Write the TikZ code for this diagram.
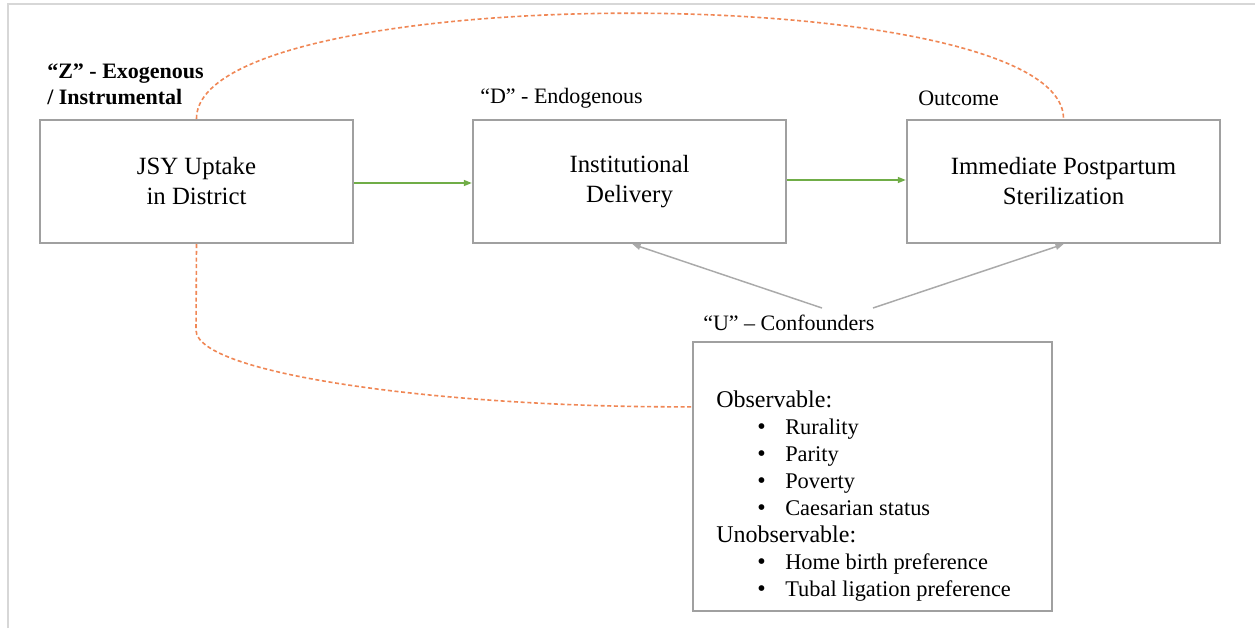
\documentclass[tikz,border=0pt]{standalone}
\usepackage{fontspec}
\setmainfont{Liberation Serif}
\usetikzlibrary{arrows.meta,calc}
\definecolor{boxgray}{RGB}{160,160,160}
\definecolor{framegray}{RGB}{215,215,215}
\definecolor{arrgreen}{RGB}{112,173,71}
\definecolor{arrgray}{RGB}{170,170,170}
\definecolor{dashorange}{RGB}{240,135,85}
\tikzset{
  mainbox/.style={draw=boxgray, line width=1.8pt, minimum width=313*0.75pt, minimum height=123*0.75pt, inner sep=0pt, align=center, font=\fontsize{18.6}{22.5}\selectfont},
  lbl/.style={anchor=west, inner sep=0pt, font=\fontsize{16.5}{19.5}\selectfont},
  greenarrow/.style={draw=arrgreen, line width=1.1pt, -{Triangle[length=6pt,width=4.5pt]}},
  grayarrow/.style={draw=arrgray, line width=1.1pt, -{Triangle[length=6pt,width=4.5pt]}},
  orangedash/.style={draw=dashorange, line width=1.2pt, dash pattern=on 3pt off 2pt},
  itm/.style={}
}
\newcommand{\bul}[1]{\hspace*{30.75pt}\makebox[21pt][l]{•}{\fontsize{16.8}{20.3}\selectfont #1}}
\begin{document}
\begin{tikzpicture}[x=0.75pt,y=-0.75pt]
\useasboundingbox (0,0) rectangle (1255,628);
\fill[white] (0,0) rectangle (1255,628);
% outer frame
\draw[framegray, line width=1.5pt] (8,628) -- (8,4) -- (1255,4);
% boxes
\node[mainbox] (jsy) at (196.5,181.5) {JSY Uptake\\in District};
\node[mainbox] (inst) at (629.5,181.5) {Institutional\\Delivery};
\node[mainbox] (imm) at (1063.5,181.5) {Immediate Postpartum\\Sterilization};
\node[draw=boxgray, line width=1.8pt, minimum width=359*0.75pt, minimum height=269*0.75pt, inner sep=0pt] (conf) at (872.5,476.5) {};
% confounder content
\node[anchor=west, inner sep=0pt, align=left, font=\fontsize{18}{20.3}\selectfont] (conftext) at (716,496) {%
Observable:\\
\bul{Rurality}\\
\bul{Parity}\\
\bul{Poverty}\\
\bul{Caesarian status}\\
Unobservable:\\
\bul{Home birth preference}\\
\bul{Tubal ligation preference}};
% labels
\node[lbl, align=left, font=\bfseries\fontsize{16.5}{19.5}\selectfont] (zlbl) at (47,84) {“Z” - Exogenous\\/ Instrumental};
\node[lbl] (dlbl) at (480,98) {“D” - Endogenous};
\node[lbl] (olbl) at (918,98) {Outcome};
\node[lbl] (ulbl) at (703,323) {“U” – Confounders};
% green arrows
\draw[greenarrow] ($(jsy.east)+(0,1.5)$) -- ($(inst.west)+(0,1.5)$);
\draw[greenarrow] ($(inst.east)+(0,-1.5)$) -- ($(imm.west)+(0,-1.5)$);
% gray arrows
\coordinate (u1) at (822,308);
\coordinate (u2) at (873,308);
\draw[grayarrow] (u1) -- ($(inst.south)+(3,0)$);
\draw[grayarrow] (u2) -- (imm.south);
% orange dashed
\draw[orangedash] (jsy.north) .. controls (196,-22) and (1064,-22) .. (imm.north);
\coordinate (cl) at ($(conf.north west)+(0,66)$);
\draw[orangedash] (jsy.south) -- (196,330) .. controls (196,375) and (450,408) .. (cl);
\end{tikzpicture}
\end{document}
